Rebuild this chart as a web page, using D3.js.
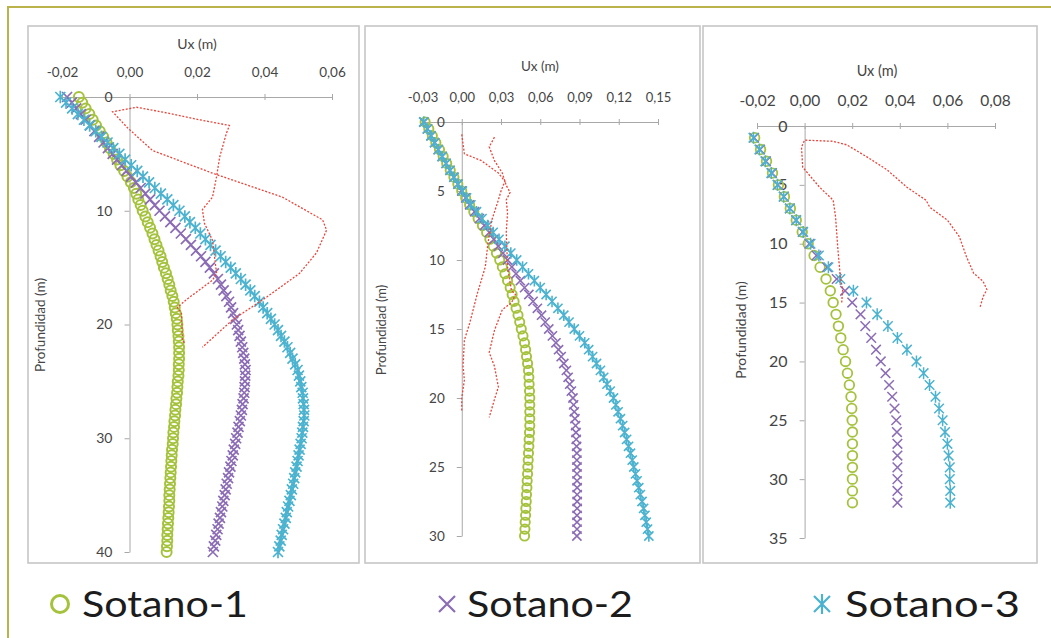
<!DOCTYPE html>
<html><head><meta charset="utf-8">
<script src="https://cdn.jsdelivr.net/npm/d3@7"></script>
<style>
html,body{margin:0;padding:0;background:#fff;}
svg{display:block;}
text{font-family:Lato,"Open Sans",sans-serif;}
</style></head>
<body>
<svg id="chart" width="1051" height="638"></svg>
<script>
// ---------------- DATA ----------------
const seriesNames = ["Sotano-1", "Sotano-2", "Sotano-3"];
const xAxisTitle = "Ux (m)";
const yAxisTitle = "Profundidad (m)";

// Panel 1
const p1Depth = [0,0.5,1,1.5,2,2.5,3,3.5,4,4.5,5,5.5,6,6.5,7,7.5,8,8.5,9,9.5,10,10.5,11,11.5,12,12.5,13,13.5,14,14.5,15,15.5,16,16.5,17,17.5,18,18.5,19,19.5,20,20.5,21,21.5,22,22.5,23,23.5,24,24.5,25,25.5,26,26.5,27,27.5,28,28.5,29,29.5,30,30.5,31,31.5,32,32.5,33,33.5,34,34.5,35,35.5,36,36.5,37,37.5,38,38.5,39,39.5,40];
const p1Sotano1 = [-0.0150,-0.0140,-0.0130,-0.0119,-0.0109,-0.0099,-0.0088,-0.0078,-0.0068,-0.0058,
-0.0047,-0.0037,-0.0027,-0.0016,-0.0006,0.0004,0.0013,0.0020,0.0026,0.0033,
0.0039,0.0047,0.0054,0.0061,0.0068,0.0074,0.0080,0.0086,0.0092,0.0097,
0.0102,0.0108,0.0113,0.0118,0.0122,0.0127,0.0131,0.0134,0.0137,0.0140,
0.0142,0.0143,0.0145,0.0146,0.0147,0.0147,0.0147,0.0146,0.0146,0.0145,
0.0143,0.0142,0.0141,0.0139,0.0138,0.0136,0.0135,0.0133,0.0132,0.0130,
0.0129,0.0128,0.0126,0.0125,0.0124,0.0123,0.0122,0.0121,0.0120,0.0119,
0.0118,0.0118,0.0117,0.0116,0.0115,0.0114,0.0113,0.0112,0.0112,0.0111,
0.0110];
const p1Sotano2 = [-0.0185,-0.0171,-0.0158,-0.0144,-0.0130,-0.0117,-0.0104,-0.0090,-0.0077,-0.0064,
-0.0050,-0.0037,-0.0023,-0.0009,0.0005,0.0019,0.0033,0.0047,0.0061,0.0075,
0.0089,0.0105,0.0121,0.0136,0.0152,0.0167,0.0182,0.0197,0.0212,0.0225,
0.0238,0.0250,0.0262,0.0271,0.0279,0.0287,0.0295,0.0301,0.0307,0.0313,
0.0318,0.0322,0.0326,0.0330,0.0334,0.0337,0.0340,0.0342,0.0344,0.0343,
0.0342,0.0341,0.0340,0.0338,0.0335,0.0333,0.0330,0.0327,0.0323,0.0320,
0.0316,0.0313,0.0309,0.0306,0.0302,0.0299,0.0295,0.0292,0.0288,0.0285,
0.0282,0.0278,0.0275,0.0271,0.0268,0.0264,0.0261,0.0257,0.0254,0.0250,
0.0247];
const p1Sotano3 = [-0.0205,-0.0188,-0.0170,-0.0153,-0.0135,-0.0118,-0.0100,-0.0083,-0.0065,-0.0048,
-0.0030,-0.0013,0.0005,0.0023,0.0040,0.0058,0.0075,0.0093,0.0112,0.0130,
0.0148,0.0164,0.0179,0.0195,0.0210,0.0225,0.0240,0.0255,0.0270,0.0285,
0.0300,0.0315,0.0330,0.0344,0.0358,0.0371,0.0385,0.0396,0.0408,0.0419,
0.0430,0.0440,0.0449,0.0459,0.0468,0.0476,0.0483,0.0491,0.0498,0.0502,
0.0506,0.0509,0.0513,0.0514,0.0516,0.0517,0.0518,0.0516,0.0514,0.0512,
0.0510,0.0507,0.0504,0.0501,0.0498,0.0495,0.0491,0.0488,0.0485,0.0481,
0.0478,0.0474,0.0470,0.0466,0.0463,0.0459,0.0455,0.0451,0.0448,0.0444,
0.0440];
const p1MeasuredUx = [0.0163,0.0157,0.0154,0.0142,0.0169,0.0246,0.0258,0.0246,0.0222,0.0216,0.0246,0.0258,0.0267,0.0287,0.0296,0.0207,0.0111,0.0021,-0.0050,-0.0006,0.0068,0.0246,0.0453,0.0572,0.0584,0.0554,0.0504,0.0406,0.0305,0.0216];
const p1MeasuredDepth = [21.6,21.4,19.0,18.5,17.8,16.1,15.5,12.6,11.1,9.9,8.8,7.0,5.3,3.2,2.5,2.0,1.4,0.9,1.3,2.7,4.7,6.7,8.8,10.8,11.7,13.7,15.5,17.6,19.6,22.0];
const p1XTicks = [-0.02, 0.00, 0.02, 0.04, 0.06];
const p1YTicks = [0, 10, 20, 30, 40];

// Panel 2
const p2Depth = [0,0.5,1,1.5,2,2.5,3,3.5,4,4.5,5,5.5,6,6.5,7,7.5,8,8.5,9,9.5,10,10.5,11,11.5,12,12.5,13,13.5,14,14.5,15,15.5,16,16.5,17,17.5,18,18.5,19,19.5,20,20.5,21,21.5,22,22.5,23,23.5,24,24.5,25,25.5,26,26.5,27,27.5,28,28.5,29,29.5,30];
const p2Sotano1 = [-0.0280,-0.0252,-0.0225,-0.0198,-0.0170,-0.0142,-0.0115,-0.0088,-0.0060,-0.0030,
0.0000,0.0030,0.0060,0.0092,0.0125,0.0158,0.0190,0.0215,0.0240,0.0265,
0.0290,0.0310,0.0330,0.0350,0.0370,0.0385,0.0400,0.0415,0.0430,0.0443,
0.0455,0.0468,0.0480,0.0488,0.0495,0.0503,0.0510,0.0513,0.0515,0.0518,
0.0520,0.0520,0.0520,0.0520,0.0520,0.0518,0.0515,0.0513,0.0510,0.0508,
0.0505,0.0503,0.0500,0.0498,0.0495,0.0493,0.0490,0.0488,0.0485,0.0483,
0.0480];
const p2Sotano2 = [-0.0290,-0.0262,-0.0235,-0.0207,-0.0180,-0.0150,-0.0120,-0.0090,-0.0060,-0.0030,
0.0000,0.0030,0.0060,0.0098,0.0135,0.0173,0.0210,0.0245,0.0280,0.0315,
0.0350,0.0383,0.0415,0.0448,0.0480,0.0513,0.0545,0.0578,0.0610,0.0638,
0.0665,0.0693,0.0720,0.0740,0.0760,0.0780,0.0800,0.0813,0.0825,0.0838,
0.0850,0.0855,0.0860,0.0865,0.0870,0.0873,0.0875,0.0878,0.0880,0.0880,
0.0881,0.0881,0.0881,0.0882,0.0882,0.0882,0.0882,0.0881,0.0881,0.0881,
0.0880];
const p2Sotano3 = [-0.0290,-0.0263,-0.0235,-0.0208,-0.0180,-0.0150,-0.0120,-0.0090,-0.0060,-0.0028,
0.0005,0.0037,0.0070,0.0113,0.0155,0.0198,0.0240,0.0285,0.0330,0.0375,
0.0420,0.0465,0.0510,0.0555,0.0600,0.0645,0.0690,0.0735,0.0780,0.0820,
0.0860,0.0900,0.0940,0.0970,0.1000,0.1030,0.1060,0.1085,0.1110,0.1135,
0.1160,0.1178,0.1195,0.1213,0.1230,0.1245,0.1260,0.1275,0.1290,0.1303,
0.1315,0.1328,0.1340,0.1353,0.1365,0.1378,0.1390,0.1400,0.1410,0.1420,
0.1430];
const p2MeasuredAUx = [0.000,0.002,0.015,0.028,0.033,0.030,0.028,0.023,0.020,0.018,0.012,0.006,0.002,0.001,0.002,0.000,0.000];
const p2MeasuredADepth = [0.9,2.3,2.8,3.7,4.3,5.0,5.65,7.1,8.8,10.5,12.4,14.6,15.8,17.7,18.7,20.0,21.0];
const p2MeasuredBUx = [0.025,0.021,0.025,0.031,0.034,0.037,0.034,0.035,0.034,0.035,0.038,0.041,0.038,0.031,0.025,0.021,0.025,0.028,0.025,0.021];
const p2MeasuredBDepth = [1.1,1.8,2.8,3.7,4.6,5.1,5.65,6.6,8.0,10.5,12.2,12.5,13.1,13.6,15.1,16.7,17.7,19.2,20.1,21.4];
const p2XTicks = [-0.03, 0.00, 0.03, 0.06, 0.09, 0.12, 0.15];
const p2YTicks = [0, 5, 10, 15, 20, 25, 30];

// Panel 3
const p3Depth = [1,2,3,4,5,6,7,8,9,10,11,12,13,14,15,16,17,18,19,20,21,22,23,24,25,26,27,28,29,30,31,32];
const p3Sotano1 = [-0.0210,-0.0185,-0.0160,-0.0135,-0.0110,-0.0085,-0.0060,-0.0035,-0.0010,0.0015,0.0040,0.0065,0.0090,0.0108,0.0120,0.0132,0.0142,0.0152,0.0162,0.0172,0.0180,0.0188,0.0195,0.0198,0.0200,0.0201,0.0201,0.0201,0.0201,0.0201,0.0201,0.0201];
const p3Sotano2 = [-0.0212,-0.0187,-0.0162,-0.0137,-0.0112,-0.0087,-0.0062,-0.0036,-0.0008,0.0020,0.0050,0.0095,0.0135,0.0170,0.0200,0.0235,0.0255,0.0280,0.0300,0.0320,0.0340,0.0355,0.0368,0.0378,0.0385,0.0388,0.0390,0.0390,0.0390,0.0390,0.0390,0.0390];
const p3Sotano3 = [-0.0215,-0.0190,-0.0165,-0.0140,-0.0114,-0.0088,-0.0062,-0.0035,-0.0006,0.0025,0.0060,0.0100,0.0150,0.0205,0.0260,0.0305,0.0350,0.0390,0.0430,0.0470,0.0500,0.0525,0.0550,0.0565,0.0580,0.0590,0.0600,0.0605,0.0610,0.0610,0.0612,0.0612];
const p3MeasuredUx = [0.0156,0.0160,0.0150,0.0140,0.0130,0.0120,0.0063,-0.0008,-0.0013,0.0000,0.0120,0.0177,0.0260,0.0345,0.0430,0.0510,0.0526,0.0600,0.0650,0.0680,0.0710,0.0750,0.0766,0.0750,0.0737];
const p3MeasuredDepth = [15.0,13.9,12.8,10.5,7.7,6.3,5.2,3.5,1.8,1.2,1.3,1.6,2.6,3.7,5.2,6.3,6.9,8.0,9.4,11.1,12.5,13.2,13.9,14.5,15.4];
const p3XTicks = [-0.02, 0.00, 0.02, 0.04, 0.06, 0.08];
const p3YTicks = [0, 5, 10, 15, 20, 25, 30, 35];

// ---------------- STYLE / LAYOUT ----------------
const colors = ["#a4c23c", "#8b6cb5", "#4bb3cf"];
const redColor = "#e8463c";
const axisColor = "#a8a8a8";
const textColor = "#454545";

const panels = [
  { frame:[28,26,331,537], xr:[62,332], yr:[97,552], xDom:[-0.02,0.06], yDom:[0,40],
    xTicks:p1XTicks, yTicks:p1YTicks, depth:p1Depth, series:[p1Sotano1,p1Sotano2,p1Sotano3],
    red:[[p1MeasuredUx,p1MeasuredDepth]], title:[197,45], ytitle:[42,325], fs:14, tfs:13.5, r:5, sw:2 },
  { frame:[365,26,335,537], xr:[422.5,658], yr:[122,536], xDom:[-0.03,0.15], yDom:[0,30],
    xTicks:p2XTicks, yTicks:p2YTicks, depth:p2Depth, series:[p2Sotano1,p2Sotano2,p2Sotano3],
    red:[[p2MeasuredAUx,p2MeasuredADepth],[p2MeasuredBUx,p2MeasuredBDepth]], title:[540,68], ytitle:[383,330], fs:13.5, tfs:13, r:4.6, sw:1.9 },
  { frame:[703,26,334,537], xr:[757,995], yr:[126,538], xDom:[-0.02,0.08], yDom:[0,35],
    xTicks:p3XTicks, yTicks:p3YTicks, depth:p3Depth, series:[p3Sotano1,p3Sotano2,p3Sotano3],
    red:[[p3MeasuredUx,p3MeasuredDepth]], title:[877,72], ytitle:[742,330], fs:14.5, tfs:15.5, r:4.8, sw:1.8 }
];

const locale = d3.formatLocale({decimal:",", thousands:".", grouping:[3], currency:["","€"], minus:"-"});
const fmt = locale.format(".2f");

const svg = d3.select("#chart");
svg.append("rect").attr("width",1051).attr("height",638).attr("fill","#fff");

// outer frame (top and left olive lines)
svg.append("path").attr("d","M8,638 L8,7 L1051,7").attr("fill","none")
  .attr("stroke","#bab34c").attr("stroke-width",2);

function markerPath(type, a){
  if (type === 1) return `M${-a},${-a}L${a},${a}M${-a},${a}L${a},${-a}`;
  if (type === 2) return `M${-a},${-a}L${a},${a}M${-a},${a}L${a},${-a}M0,${-a*1.25}L0,${a*1.25}`;
  return "";
}

panels.forEach(p => {
  const g = svg.append("g");
  g.append("rect").attr("x",p.frame[0]).attr("y",p.frame[1]).attr("width",p.frame[2]).attr("height",p.frame[3])
    .attr("fill","#fff").attr("stroke","#c6c6c6").attr("stroke-width",1.6);

  const x = d3.scaleLinear().domain(p.xDom).range(p.xr);
  const y = d3.scaleLinear().domain(p.yDom).range(p.yr);

  // x axis (top)
  const xa = g.append("g").attr("transform",`translate(0,${y(0)})`)
    .call(d3.axisTop(x).tickValues(p.xTicks).tickFormat(fmt).tickSize(4).tickSizeOuter(0).tickPadding(16));
  xa.select(".domain").attr("stroke",axisColor);
  xa.selectAll(".tick line").attr("stroke",axisColor).attr("y2",-3).attr("y1",3);
  xa.selectAll("text").attr("fill",textColor).style("font-size",p.tfs+"px").style("font-family","Lato, sans-serif");

  // y axis
  const ya = g.append("g").attr("transform",`translate(${x(0)},0)`)
    .call(d3.axisLeft(y).tickValues(p.yTicks).tickSize(5).tickSizeOuter(0).tickPadding(12));
  ya.select(".domain").attr("stroke",axisColor);
  ya.selectAll(".tick line").attr("stroke",axisColor);
  ya.selectAll("text").attr("fill",textColor).style("font-size",(p.tfs+0.5)+"px").style("font-family","Lato, sans-serif");

  // titles
  g.append("text").attr("x",p.title[0]).attr("y",p.title[1]).attr("text-anchor","middle")
    .attr("dominant-baseline","middle").attr("fill",textColor).style("font-size",p.fs+"px").text(xAxisTitle);
  g.append("text").attr("transform",`translate(${p.ytitle[0]},${p.ytitle[1]}) rotate(-90)`)
    .attr("text-anchor","middle").attr("dominant-baseline","middle").attr("fill",textColor)
    .style("font-size",(p.fs-0.5)+"px").text(yAxisTitle);

  // series markers
  p.series.forEach((vals, si) => {
    const pts = vals.map((v,i) => [v, p.depth[i]]);
    const sg = g.append("g");
    if (si === 0) {
      sg.selectAll("circle").data(pts).join("circle")
        .attr("cx",d=>x(d[0])).attr("cy",d=>y(d[1])).attr("r",p.r)
        .attr("fill","none").attr("stroke",colors[0]).attr("stroke-width",p.sw);
    } else {
      sg.selectAll("path").data(pts).join("path")
        .attr("transform",d=>`translate(${x(d[0])},${y(d[1])})`)
        .attr("d",markerPath(si, p.r))
        .attr("fill","none").attr("stroke",colors[si]).attr("stroke-width",p.sw-0.3);
    }
  });

  // measured (red dotted)
  const line = d3.line().x(d=>x(d[0])).y(d=>y(d[1]));
  p.red.forEach(([ux, dep]) => {
    g.append("path").datum(ux.map((v,i)=>[v,dep[i]])).attr("d",line)
      .attr("fill","none").attr("stroke",redColor).attr("stroke-width",1.3)
      .attr("stroke-dasharray","2,1.6");
  });
});

// legend
const legendX = [60, 447, 822];
const legendTextX = [82, 467, 845];
const legendY = 604;
seriesNames.forEach((name, i) => {
  const lg = svg.append("g");
  if (i === 0) {
    lg.append("circle").attr("cx",legendX[i]).attr("cy",legendY).attr("r",8.5)
      .attr("fill","none").attr("stroke",colors[0]).attr("stroke-width",3);
  } else {
    lg.append("path").attr("transform",`translate(${legendX[i]},${legendY})`)
      .attr("d",markerPath(i, 8)).attr("fill","none").attr("stroke",colors[i]).attr("stroke-width",2.2);
  }
  lg.append("text").attr("x",legendTextX[i]).attr("y",legendY+13).attr("fill","#1c1c1c")
    .style("font-size","36px").attr("textLength",i===2?175:166).attr("lengthAdjust","spacingAndGlyphs").text(name);
});
</script>
</body></html>
